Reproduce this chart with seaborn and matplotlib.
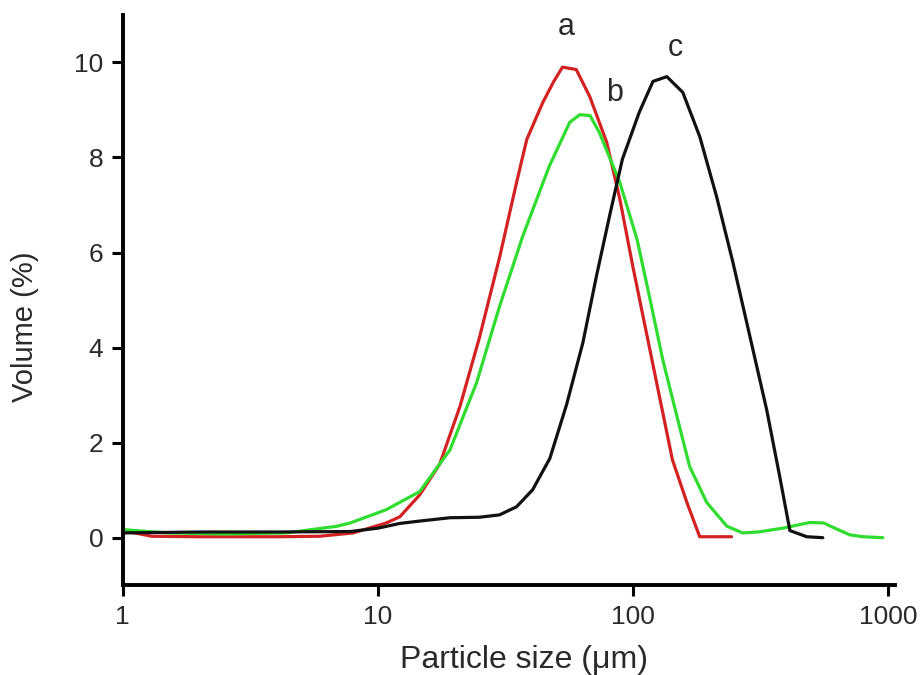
import seaborn as sns
import matplotlib
matplotlib.use('Agg')
import matplotlib.pyplot as plt
import matplotlib.ticker as mticker
import pandas as pd

# Particle size distributions (volume %) vs particle size (um)
# curve a (red)
size_a = [1.0, 1.3, 2, 3, 4, 5.9, 8, 10.8, 12.2, 14.6, 17.5, 21, 25.1, 30.1, 35,
          38.4, 44.4, 49, 53, 60, 67.8, 79, 89, 100, 113, 128, 143, 163, 183, 244]
vol_a = [0.15, 0.03, 0.02, 0.02, 0.02, 0.03, 0.1, 0.31, 0.44, 0.9, 1.55, 2.76, 4.23, 5.92, 7.47,
         8.38, 9.16, 9.6, 9.9, 9.85, 9.28, 8.32, 7.12, 5.71, 4.32, 2.9, 1.64, 0.74, 0.02, 0.02]

# curve b (green)
size_b = [1.0, 1.5, 2.5, 4.4, 6.9, 7.8, 10.8, 14.6, 19.2, 24.4, 30, 37, 47, 56.6, 62, 68,
          74, 89, 104, 117, 131, 149, 167, 195, 234, 270, 310, 387, 494, 560, 620, 709, 800, 956]
vol_b = [0.17, 0.1, 0.08, 0.1, 0.24, 0.31, 0.59, 0.97, 1.85, 3.26, 4.86, 6.34, 7.81, 8.74, 8.9, 8.88,
         8.52, 7.47, 6.27, 5.0, 3.75, 2.55, 1.5, 0.74, 0.24, 0.1, 0.12, 0.2, 0.32, 0.31, 0.2, 0.06, 0.02, 0.0]

# curve c (black)
size_c = [1.0, 2, 4, 7.8, 10, 12.2, 14.6, 19.2, 25, 30, 35, 40.5, 47.3, 55, 63.7, 72, 81,
          91, 106, 120, 136, 157, 183, 213, 247, 288, 335, 377, 413, 481, 556]
vol_c = [0.1, 0.12, 0.12, 0.13, 0.2, 0.3, 0.35, 0.42, 0.43, 0.48, 0.65, 1.01, 1.67, 2.8, 4.1, 5.5, 6.76,
         7.96, 8.95, 9.6, 9.7, 9.37, 8.44, 7.18, 5.79, 4.23, 2.69, 1.28, 0.15, 0.02, 0.0]

# curve labels and where they sit
labels = ['a', 'b', 'c']
label_x = [55, 85, 147]
label_y = [10.75, 9.35, 10.3]

df = pd.concat([
    pd.DataFrame({'size': size_a, 'vol': vol_a, 'curve': 'a'}),
    pd.DataFrame({'size': size_b, 'vol': vol_b, 'curve': 'b'}),
    pd.DataFrame({'size': size_c, 'vol': vol_c, 'curve': 'c'}),
])

sns.set_style('ticks')
plt.rcParams['font.family'] = ['Liberation Sans', 'DejaVu Sans']
txt = '#2a2a2a'

fig = plt.figure(figsize=(9.23, 6.75), dpi=100)
ax = fig.add_axes([0.133, 0.133, 0.837, 0.845])

sns.lineplot(data=df, x='size', y='vol', hue='curve', sort=False, estimator=None,
             palette={'a': '#d42222', 'b': '#2fdc2f', 'c': '#111111'},
             linewidth=2.3, legend=False, ax=ax)

ax.set_xscale('log')
ax.set_xlim(1, 1070)
ax.set_ylim(-1, 11)
ax.set_yticks([0, 2, 4, 6, 8, 10])
ax.xaxis.set_major_locator(mticker.FixedLocator([1, 10, 100, 1000]))
ax.xaxis.set_major_formatter(mticker.FixedFormatter(['1', '10', '100', '1000']))
ax.xaxis.set_minor_locator(mticker.NullLocator())

for s in ['top', 'right']:
    ax.spines[s].set_visible(False)
for s in ['left', 'bottom']:
    ax.spines[s].set_linewidth(2.8)
    ax.spines[s].set_color('black')

ax.tick_params(axis='both', length=8, width=2.2, color='black', labelsize=19,
               labelcolor=txt, pad=6, direction='out')

ax.set_xlabel('Particle size (\u03bcm)', fontsize=23, color=txt)
ax.set_ylabel('Volume (%)', fontsize=21, color=txt)
ax.xaxis.set_label_coords(0.519, -0.105)
ax.yaxis.set_label_coords(-0.108, 0.453)

for lab, lx, ly in zip(labels, label_x, label_y):
    ax.text(lx, ly, lab, fontsize=22, color=txt, ha='center', va='center')

fig.savefig('out.png', dpi=100)
